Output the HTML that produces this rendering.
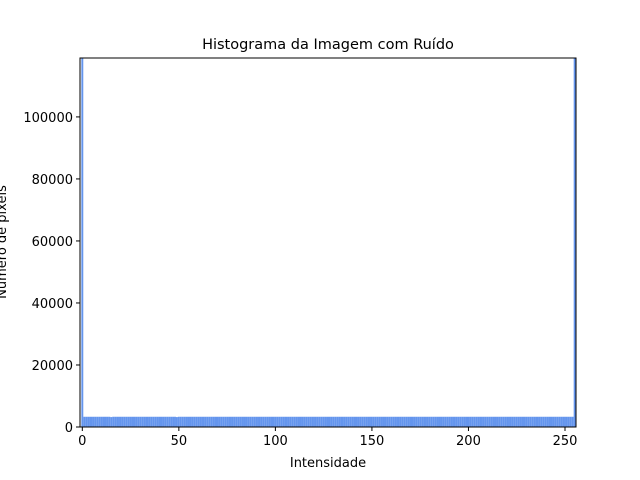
<!DOCTYPE html>
<html><head><meta charset="utf-8"><style>
body{margin:0;background:#fff;}
svg{display:block;font-family:"DejaVu Sans","Liberation Sans",sans-serif;}
</style></head><body>
<svg id="chart" width="640" height="480">
<rect width="640" height="480" fill="#fff"/>
<text x="328" y="49" font-size="14.5" text-anchor="middle">Histograma da Imagem com Ruído</text>
<g id="bars"></g>
<g id="axes"></g>
<text x="328" y="467" font-size="13" text-anchor="middle">Intensidade</text>
<text transform="translate(6,242) rotate(-90)" font-size="13" text-anchor="middle">Número de pixels</text>
</svg>
<script>
const counts = [119000,3300,3300,3300,3300,3300,3300,3300,3300,3300,3300,3300,3300,3300,3300,3200,3300,3300,3300,3300,3300,3300,3300,3300,3300,3300,3300,3300,3300,3300,3300,3300,
3300,3300,3300,3300,3300,3300,3300,3300,3300,3300,3300,3300,3300,3300,3300,3300,3300,3200,3300,3300,3300,3300,3300,3300,3300,3300,3300,3300,3300,3300,3300,3300,
3300,3300,3300,3300,3300,3300,3300,3300,3300,3300,3300,3300,3300,3300,3300,3300,3300,3300,3300,3300,3300,3300,3300,3300,3300,3300,3300,3300,3300,3300,3300,3300,
3300,3300,3300,3300,3300,3300,3300,3300,3300,3300,3300,3300,3300,3300,3300,3300,3300,3300,3300,3300,3300,3300,3300,3300,3300,3300,3300,3300,3300,3300,3300,3300,
3300,3300,3300,3300,3300,3300,3300,3300,3300,3300,3300,3300,3300,3300,3300,3300,3300,3300,3300,3300,3300,3300,3300,3300,3300,3300,3300,3300,3300,3300,3300,3300,
3300,3300,3300,3300,3300,3300,3300,3300,3300,3300,3300,3300,3300,3300,3300,3300,3300,3300,3300,3300,3300,3300,3300,3300,3300,3300,3300,3300,3300,3300,3300,3300,
3300,3300,3300,3300,3300,3300,3300,3300,3300,3300,3300,3300,3300,3300,3300,3300,3300,3300,3300,3300,3300,3300,3300,3300,3300,3300,3300,3300,3300,3300,3300,3300,
3300,3300,3300,3300,3300,3300,3300,3300,3300,3300,3300,3300,3300,3300,3300,3300,3300,3300,3300,3300,3300,3300,3300,3300,3300,3300,3300,3300,3300,3300,3300,119000];
const xTicks = [0,50,100,150,200,250];
const yTicks = [0,20000,40000,60000,80000,100000];
const X0=80,X1=576,Y0=427,Y1=58;
const xMin=-1.2,xMax=255.7,yMin=0,yMax=119000;
const xs=v=>X0+(v-xMin)/(xMax-xMin)*(X1-X0);
const ys=v=>Y0-(v-yMin)/(yMax-yMin)*(Y0-Y1);
const NS="http://www.w3.org/2000/svg";
const bars=document.getElementById('bars');
const axes=document.getElementById('axes');
function mk(tag,attrs,parent){const e=document.createElementNS(NS,tag);for(const k in attrs)e.setAttribute(k,attrs[k]);parent.appendChild(e);return e;}
counts.forEach((c,i)=>{
  const top=Math.max(ys(c),Y1);
  const r=mk('rect',{x:xs(i-0.5),y:top,width:xs(i+0.5)-xs(i-0.5),height:Y0-top,fill:'#6495ed'},bars);
  
  
});
const frame=mk('rect',{x:X0,y:Y1,width:X1-X0,height:Y0-Y1,fill:'none',stroke:'#000','stroke-width':1},axes);


xTicks.forEach(t=>{
  const x=xs(t);
  mk('line',{x1:x,x2:x,y1:Y0,y2:Y0+4,stroke:'#000'},axes);
  const tx=mk('text',{x:x,y:Y0+18,'font-size':13,'text-anchor':'middle'},axes);
  tx.textContent=t;
  
  
});
yTicks.forEach(t=>{
  const y=ys(t);
  mk('line',{x1:X0-4,x2:X0,y1:y,y2:y,stroke:'#000'},axes);
  const tx=mk('text',{x:X0-7,y:y+5,'font-size':13,'text-anchor':'end'},axes);
  tx.textContent=t;
  
  
});
</script>
</body></html>
